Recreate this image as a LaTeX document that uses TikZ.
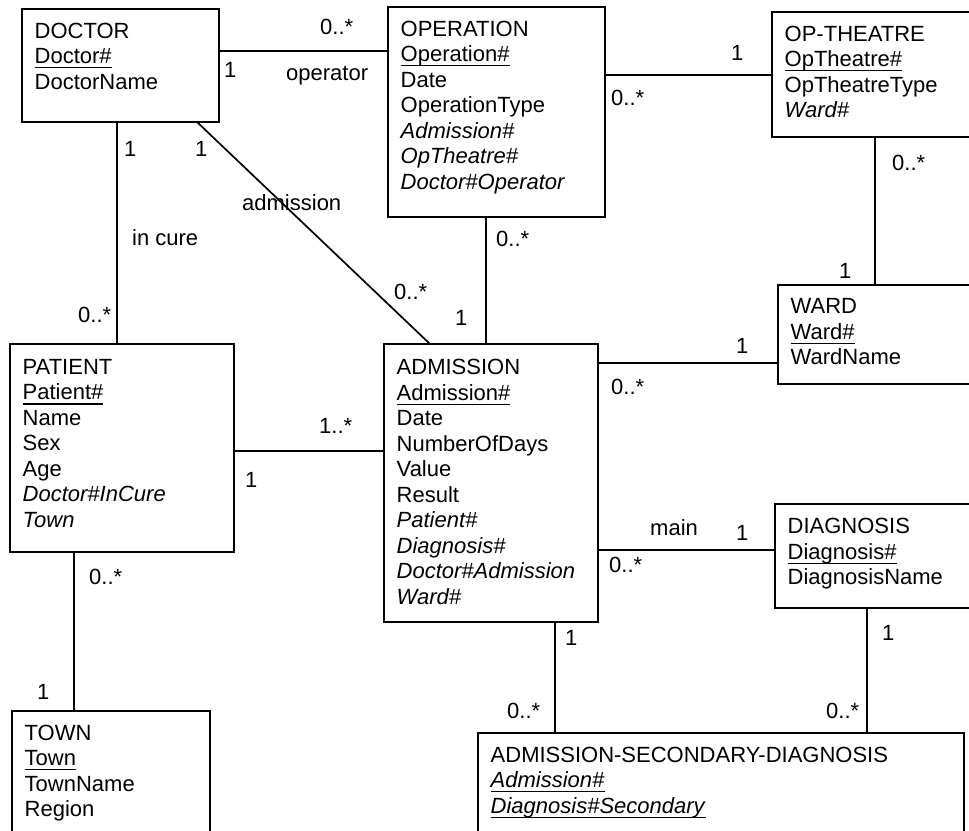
\documentclass[tikz,border=0pt]{standalone}
\usepackage{fontspec}
\setmainfont{Liberation Sans}
\usetikzlibrary{calc}
\newcommand{\keyfield}[1]{\setbox0=\hbox{#1}\rlap{\rule[-4.8pt]{\wd0}{1.2pt}}\box0}
\tikzset{
	entity/.style={draw, line width=1.7pt, rectangle, anchor=north west,
			inner sep=0pt, outer sep=0pt},
	fields/.style={anchor=north west, align=left, inner sep=0pt,
			font=\fontsize{22}{25.5}\selectfont,
			execute at begin node={\rule{0pt}{17pt}}},
	mult/.style={anchor=base west, inner sep=0pt,
			font=\fontsize{22}{25.5}\selectfont},
	assoc/.style={line width=1.7pt}
}

\begin{document}
\begin{tikzpicture}[x=1pt, y=-1pt]
			\path[use as bounding box] (0,0) rectangle (969,830);
			\clip (0,0) rectangle (969,830);

			% Entities
			\node[entity, minimum width=197, minimum height=113] (doctor) at (22,9) {};
			\node[entity, minimum width=217, minimum height=210] (operation) at (388,7) {};
			\node[entity, minimum width=240, minimum height=125] (optheatre) at (772,12) {};
			\node[entity, minimum width=240, minimum height=99] (ward) at (778,285) {};
			\node[entity, minimum width=224, minimum height=208] (patient) at (10,344) {};
			\node[entity, minimum width=214, minimum height=278] (admission) at (384,344) {};
			\node[entity, minimum width=240, minimum height=104] (diagnosis) at (775,504) {};
			\node[entity, minimum width=198, minimum height=150] (town) at (12,711) {};
			\node[entity, minimum width=486, minimum height=150] (secdiag) at (478,733) {};

			% Attributes
			\node[fields] (doctorF) at ($(doctor.north west)+(12.5,13.5)$)
			{DOCTOR\\ \keyfield{Doctor\#}\\ DoctorName};
			\node[fields] (operationF) at ($(operation.north west)+(12.5,13.5)$)
			{OPERATION\\ \keyfield{Operation\#}\\ Date\\ OperationType\\
				\textit{Admission\#}\\ \textit{OpTheatre\#}\\ \textit{Doctor\#Operator}};
			\node[fields] (optheatreF) at ($(optheatre.north west)+(12.5,13.5)$)
			{OP-THEATRE\\ \keyfield{OpTheatre\#}\\ OpTheatreType\\ \textit{Ward\#}};
			\node[fields] (wardF) at ($(ward.north west)+(12.5,13.5)$)
			{WARD\\ \keyfield{Ward\#}\\ WardName};
			\node[fields] (patientF) at ($(patient.north west)+(12.5,15)$)
			{PATIENT\\ \keyfield{Patient\#}\\ Name\\ Sex\\ Age\\
				\textit{Doctor\#InCure}\\ \textit{Town}};
			\node[fields] (admissionF) at ($(admission.north west)+(12.5,15)$)
			{ADMISSION\\ \keyfield{Admission\#}\\ Date\\ NumberOfDays\\ Value\\ Result\\
				\textit{Patient\#}\\ \textit{Diagnosis\#}\\ \textit{Doctor\#Admission}\\ \textit{Ward\#}};
			\node[fields] (diagnosisF) at ($(diagnosis.north west)+(12.5,14)$)
			{DIAGNOSIS\\ \keyfield{Diagnosis\#}\\ DiagnosisName};
			\node[fields] (townF) at ($(town.north west)+(12.5,13.5)$)
			{TOWN\\ \keyfield{Town}\\ TownName\\ Region};
			\node[fields] (secdiagF) at ($(secdiag.north west)+(12.5,13.5)$)
			{ADMISSION-SECONDARY-DIAGNOSIS\\ \keyfield{\textit{Admission\#}}\\
				\keyfield{\textit{Diagnosis\#Secondary}}};

			% Associations
			\draw[assoc] (doctor.east |- 0,51) -- (operation.west |- 0,51);
			\draw[assoc] (operation.east |- 0,75) -- (optheatre.west |- 0,75);
			\draw[assoc] (doctor.south -| 117,0) -- (patient.north -| 117,0);
			\draw[assoc] (doctor.south -| 197,0) -- (admission.north -| 430,0);
			\draw[assoc] (operation.south -| 486,0) -- (admission.north -| 486,0);
			\draw[assoc] (optheatre.south -| 875,0) -- (ward.north -| 875,0);
			\draw[assoc] (admission.east |- 0,363) -- (ward.west |- 0,363);
			\draw[assoc] (patient.east |- 0,451) -- (admission.west |- 0,451);
			\draw[assoc] (admission.east |- 0,550) -- (diagnosis.west |- 0,550);
			\draw[assoc] (patient.south -| 74,0) -- (town.north -| 74,0);
			\draw[assoc] (admission.south -| 555,0) -- (secdiag.north -| 555,0);
			\draw[assoc] (diagnosis.south -| 867,0) -- (secdiag.north -| 867,0);

			% Multiplicities and role names
			\node[mult] (opMany) at (320,34) {0..*};
			\node[mult] (opOne) at (224,77) {1};
			\node[mult] (opRole) at (286,80) {operator};
			\node[mult] (cureOne) at (124,156) {1};
			\node[mult] (admOne) at (195,156) {1};
			\node[mult] (admRole) at (242,210) {admission};
			\node[mult] (cureRole) at (132,245) {in cure};
			\node[mult] (cureMany) at (78,322) {0..*};
			\node[mult] (admMany) at (394,299) {0..*};
			\node[mult] (opAdmOne) at (455,325) {1};
			\node[mult] (opAdmMany) at (496,246) {0..*};
			\node[mult] (theatreOne) at (731,60) {1};
			\node[mult] (theatreMany) at (611,105) {0..*};
			\node[mult] (wardTheatreMany) at (892,170) {0..*};
			\node[mult] (wardTheatreOne) at (839,278) {1};
			\node[mult] (wardOne) at (736,353) {1};
			\node[mult] (wardMany) at (611,394) {0..*};
			\node[mult] (mainRole) at (650,535) {main};
			\node[mult] (mainOne) at (736,540) {1};
			\node[mult] (mainMany) at (609,572) {0..*};
			\node[mult] (patMany) at (319,433) {1..*};
			\node[mult] (patOne) at (245,487) {1};
			\node[mult] (townMany) at (89,584) {0..*};
			\node[mult] (townOne) at (37,699) {1};
			\node[mult] (secAdmOne) at (565,645) {1};
			\node[mult] (secAdmMany) at (507,718) {0..*};
			\node[mult] (secDiagOne) at (882,640) {1};
			\node[mult] (secDiagMany) at (826,718) {0..*};
		\end{tikzpicture}
\end{document}
